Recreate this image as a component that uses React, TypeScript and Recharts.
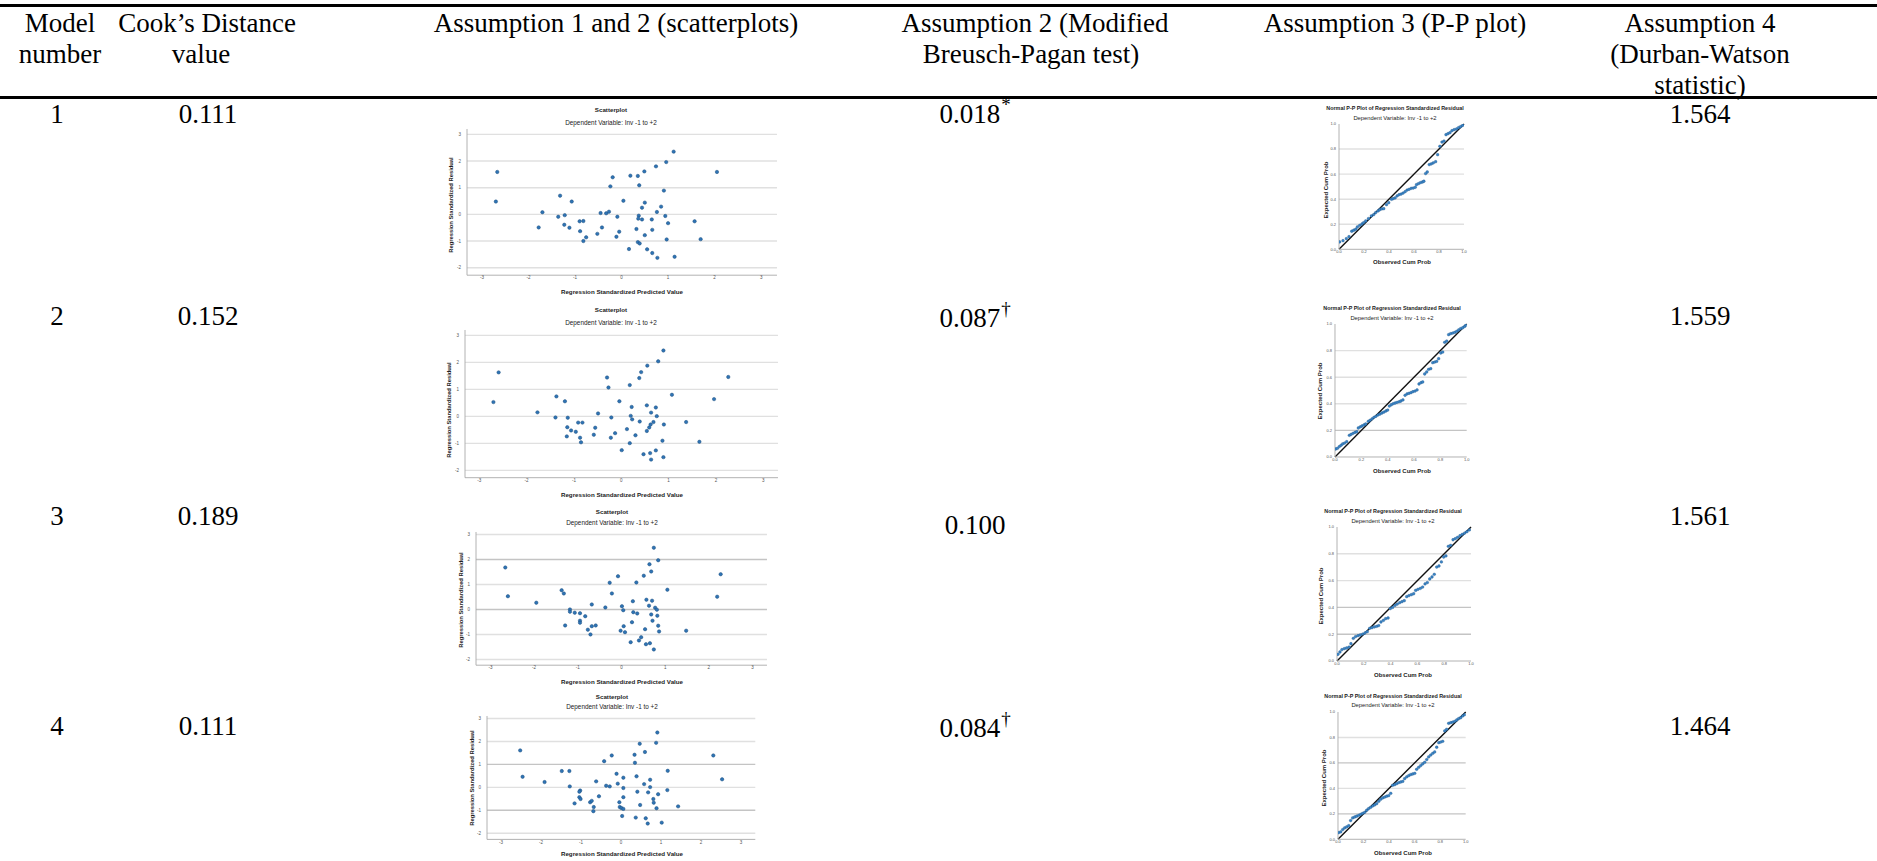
import { ScatterChart, Scatter, XAxis, YAxis, ReferenceLine } from "recharts";

const SERIF = '"Liberation Serif", "Times New Roman", serif';
const SANS = '"Liberation Sans", Arial, sans-serif';
const DOT = "#2f74b5";
const DOT_EDGE = "#1b4d7e";
const PP_DOT = "#3a84c6";
const GRID = "#e0e0e0";
const GRID_DARK = "#c4c4c4";
const AXIS = "#a9a9a9";

// table text
const MODEL_NUMBERS = ["1", "2", "3", "4"];
const COOKS_VALUES = ["0.111", "0.152", "0.189", "0.111"];
const BP_VALUES = ["0.018", "0.087", "0.100", "0.084"];
const BP_MARKS = ["*", "\u2020", "", "\u2020"];
const DW_VALUES = ["1.564", "1.559", "1.561", "1.464"];

const SCATTER_TITLE = "Scatterplot";
const PP_TITLE = "Normal P-P Plot of Regression Standardized Residual";
const SUBTITLE = "Dependent Variable: Inv -1 to +2";

const SCATTER_X_TICKS = [-3, -2, -1, 0, 1, 2, 3];
const SCATTER_Y_TICKS = [-2, -1, 0, 1, 2, 3];
const PP_TICKS = [0, 0.2, 0.4, 0.6, 0.8, 1];
const PP_GRID = [0.2, 0.4, 0.6, 0.8];

type Pt = [number, number];

// standardized predicted value, standardized residual
const scatter1: Pt[] = [
  [-2.67, 1.59], [-2.7, 0.48], [-1.78, -0.49], [-1.7, 0.08], [-1.32, 0.7], [-1.36, -0.09],
  [-1.22, -0.03], [-1.23, -0.39], [-1.12, -0.5], [-1.07, 0.48], [-0.9, -0.26], [-0.82, -0.25],
  [-0.89, -0.63], [-0.82, -1.0], [-0.76, -0.86], [-0.52, -0.73], [-0.45, 0.05], [-0.42, -0.49],
  [-0.33, 0.04], [-0.27, 0.1], [-0.24, 1.05], [-0.19, 1.39], [-0.09, -0.09], [-0.05, -0.65],
  [-0.11, -0.84], [0.04, 0.51], [0.16, -1.3], [0.19, 1.45], [0.32, -0.55], [0.35, 1.44],
  [0.38, 1.09], [0.37, -0.05], [0.36, -0.16], [0.35, -1.04], [0.39, -1.09], [0.44, 0.25],
  [0.44, -0.19], [0.5, 0.44], [0.49, 1.61], [0.5, -0.78], [0.55, -1.31], [0.65, -0.19],
  [0.66, -0.58], [0.66, -1.45], [0.74, 1.8], [0.76, 0.09], [0.77, -1.63], [0.85, 0.29],
  [0.91, 0.89], [0.94, -0.06], [0.96, 1.96], [0.97, -0.94], [1.0, -0.33], [1.12, 2.35],
  [1.14, -1.59], [1.57, -0.26], [1.7, -0.93], [2.05, 1.59],
];

const scatter2: Pt[] = [
  [-2.59, 1.63], [-2.7, 0.53], [-1.77, 0.15], [-1.37, 0.74], [-1.39, -0.04], [-1.19, 0.56],
  [-1.13, -0.05], [-1.14, -0.4], [-1.06, -0.52], [-1.15, -0.74], [-0.96, -0.57], [-0.91, -0.23],
  [-0.82, -0.23], [-0.87, -0.79], [-0.85, -0.96], [-0.58, -0.68], [-0.55, -0.42], [-0.49, 0.11],
  [-0.3, 1.44], [-0.27, 1.07], [-0.21, -0.04], [-0.22, -0.79], [-0.13, -0.62], [-0.04, 0.56],
  [0.01, -1.25], [0.12, -0.47], [0.18, 1.16], [0.18, -0.99], [0.2, 0.02], [0.22, 0.35],
  [0.23, -0.11], [0.3, -0.7], [0.38, 1.42], [0.39, -0.19], [0.42, 1.64], [0.47, -1.4],
  [0.54, 0.41], [0.54, -0.54], [0.55, 1.88], [0.59, -0.41], [0.61, -1.36], [0.63, 0.14],
  [0.62, -0.3], [0.63, -1.6], [0.68, -0.21], [0.73, 0.33], [0.75, 0.01], [0.73, -1.26],
  [0.78, 2.04], [0.87, -0.9], [0.89, 2.44], [0.9, -0.3], [0.89, -1.51], [1.07, 0.8],
  [1.37, -0.21], [1.65, -0.94], [1.96, 0.64], [2.26, 1.46],
];

const scatter3: Pt[] = [
  [-2.66, 1.68], [-2.6, 0.53], [-1.95, 0.27], [-1.37, 0.77], [-1.32, 0.64], [-1.29, -0.64],
  [-1.18, 0.0], [-1.18, -0.09], [-1.07, -0.13], [-0.95, -0.15], [-0.95, -0.45], [-0.95, -0.53],
  [-0.83, -0.27], [-0.77, -0.81], [-0.71, -1.0], [-0.68, 0.2], [-0.68, -0.67], [-0.59, -0.64],
  [-0.37, 0.08], [-0.27, 1.07], [-0.22, 0.64], [-0.08, 1.33], [-0.02, -0.85], [0.01, 0.13],
  [0.04, -0.03], [0.05, -0.67], [0.08, -0.91], [0.21, -1.31], [0.24, -0.51], [0.26, 0.33],
  [0.27, -0.11], [0.34, 1.08], [0.36, -0.16], [0.4, -1.24], [0.45, -1.11], [0.51, 1.35],
  [0.54, -0.79], [0.56, -1.39], [0.57, 0.39], [0.63, 0.15], [0.64, 1.81], [0.65, -1.35],
  [0.68, 1.52], [0.68, -0.2], [0.7, 0.35], [0.71, -0.45], [0.74, 2.47], [0.74, -1.6],
  [0.77, 0.07], [0.81, -0.01], [0.82, -0.25], [0.84, 1.97], [0.84, -0.65], [0.86, -0.88],
  [1.05, 0.79], [1.48, -0.85], [2.19, 0.51], [2.27, 1.41],
];

const scatter4: Pt[] = [
  [-2.52, 1.61], [-2.46, 0.46], [-1.91, 0.23], [-1.48, 0.71], [-1.29, 0.71], [-1.28, 0.04],
  [-1.16, -0.7], [-1.04, -0.43], [-1.02, -0.14], [-1.01, -0.51], [-1.04, -0.19], [-0.77, -0.65],
  [-0.73, -0.59], [-0.68, -0.86], [-0.69, -1.04], [-0.62, 0.26], [-0.55, -0.39], [-0.42, 1.14],
  [-0.37, 0.07], [-0.28, 0.04], [-0.23, 1.39], [-0.11, 0.59], [-0.08, 0.16], [-0.04, -0.65],
  [-0.03, -0.86], [0.01, -0.9], [0.03, -1.25], [0.06, 0.42], [0.06, -0.03], [0.06, -0.43],
  [0.06, -0.94], [0.34, 1.42], [0.35, 1.07], [0.37, -1.32], [0.39, 0.48], [0.41, -0.19],
  [0.47, 1.9], [0.48, -0.77], [0.58, 0.14], [0.6, 1.54], [0.62, -1.35], [0.67, -1.58],
  [0.68, -0.22], [0.73, 0.33], [0.73, 0.01], [0.81, -0.51], [0.82, -0.67], [0.88, 1.94],
  [0.89, -0.91], [0.91, 2.39], [0.93, -0.3], [1.02, -1.54], [1.17, 0.72], [1.16, -0.12],
  [1.43, -0.83], [2.31, 1.39], [2.53, 0.35],
];

// observed cum prob, expected cum prob
const pp1: Pt[] = [
  [0.005, 0.059], [0.032, 0.069], [0.059, 0.085], [0.08, 0.101], [0.102, 0.144], [0.118, 0.152],
  [0.134, 0.16], [0.147, 0.178], [0.166, 0.191], [0.184, 0.202], [0.198, 0.213], [0.214, 0.226],
  [0.236, 0.245], [0.259, 0.266], [0.278, 0.277], [0.294, 0.293], [0.313, 0.306], [0.326, 0.316],
  [0.342, 0.322], [0.358, 0.324], [0.38, 0.356], [0.398, 0.372], [0.42, 0.399], [0.433, 0.404],
  [0.449, 0.41], [0.465, 0.426], [0.481, 0.436], [0.497, 0.441], [0.513, 0.449], [0.529, 0.46],
  [0.545, 0.473], [0.561, 0.479], [0.578, 0.487], [0.594, 0.489], [0.61, 0.495], [0.62, 0.516],
  [0.636, 0.524], [0.652, 0.532], [0.668, 0.537], [0.679, 0.543], [0.693, 0.604], [0.706, 0.617],
  [0.722, 0.676], [0.738, 0.681], [0.754, 0.689], [0.773, 0.699], [0.789, 0.755], [0.807, 0.822],
  [0.824, 0.856], [0.84, 0.864], [0.856, 0.915], [0.872, 0.923], [0.888, 0.931], [0.904, 0.947],
  [0.922, 0.955], [0.941, 0.96], [0.957, 0.971], [0.973, 0.979], [0.989, 0.989],
];

const pp2: Pt[] = [
  [0.005, 0.06], [0.018, 0.065], [0.033, 0.078], [0.046, 0.088], [0.058, 0.098], [0.073, 0.105],
  [0.089, 0.115], [0.109, 0.163], [0.122, 0.17], [0.137, 0.178], [0.152, 0.185], [0.165, 0.19],
  [0.177, 0.218], [0.192, 0.226], [0.205, 0.233], [0.22, 0.241], [0.233, 0.248], [0.253, 0.268],
  [0.266, 0.276], [0.281, 0.286], [0.296, 0.298], [0.311, 0.306], [0.327, 0.316], [0.342, 0.323],
  [0.357, 0.331], [0.372, 0.338], [0.387, 0.346], [0.4, 0.353], [0.413, 0.383], [0.428, 0.393],
  [0.443, 0.401], [0.458, 0.406], [0.473, 0.411], [0.489, 0.416], [0.501, 0.421], [0.516, 0.429],
  [0.532, 0.464], [0.547, 0.474], [0.562, 0.479], [0.577, 0.484], [0.592, 0.491], [0.608, 0.496],
  [0.623, 0.504], [0.638, 0.549], [0.653, 0.559], [0.666, 0.564], [0.681, 0.624], [0.696, 0.639],
  [0.711, 0.659], [0.727, 0.664], [0.742, 0.709], [0.757, 0.714], [0.772, 0.719], [0.787, 0.739],
  [0.803, 0.782], [0.818, 0.789], [0.833, 0.862], [0.848, 0.872], [0.863, 0.92], [0.878, 0.927],
  [0.894, 0.932], [0.909, 0.937], [0.924, 0.945], [0.939, 0.955], [0.954, 0.965], [0.97, 0.972],
  [0.985, 0.982], [0.995, 0.992],
];

const pp3: Pt[] = [
  [0.007, 0.05], [0.022, 0.067], [0.037, 0.085], [0.055, 0.092], [0.072, 0.097], [0.09, 0.104],
  [0.104, 0.129], [0.122, 0.169], [0.139, 0.182], [0.157, 0.189], [0.174, 0.194], [0.192, 0.201],
  [0.209, 0.209], [0.226, 0.219], [0.244, 0.244], [0.261, 0.249], [0.279, 0.254], [0.296, 0.259],
  [0.311, 0.264], [0.328, 0.291], [0.346, 0.303], [0.363, 0.316], [0.381, 0.321], [0.398, 0.391],
  [0.415, 0.4], [0.433, 0.415], [0.45, 0.425], [0.468, 0.435], [0.485, 0.443], [0.502, 0.45],
  [0.52, 0.48], [0.537, 0.488], [0.555, 0.495], [0.572, 0.502], [0.587, 0.527], [0.604, 0.535],
  [0.622, 0.542], [0.639, 0.552], [0.657, 0.575], [0.674, 0.585], [0.692, 0.612], [0.709, 0.627],
  [0.726, 0.647], [0.744, 0.701], [0.761, 0.709], [0.779, 0.739], [0.796, 0.776], [0.813, 0.784],
  [0.831, 0.856], [0.848, 0.863], [0.866, 0.905], [0.883, 0.913], [0.9, 0.923], [0.918, 0.935],
  [0.935, 0.945], [0.953, 0.955], [0.97, 0.965], [0.988, 0.978],
];

const pp4: Pt[] = [
  [0.005, 0.052], [0.021, 0.058], [0.037, 0.076], [0.052, 0.089], [0.068, 0.097], [0.084, 0.107],
  [0.099, 0.147], [0.115, 0.168], [0.131, 0.175], [0.146, 0.181], [0.162, 0.188], [0.178, 0.196],
  [0.193, 0.204], [0.209, 0.212], [0.225, 0.228], [0.24, 0.241], [0.256, 0.251], [0.272, 0.262],
  [0.287, 0.27], [0.303, 0.28], [0.319, 0.298], [0.334, 0.314], [0.35, 0.325], [0.366, 0.332],
  [0.381, 0.338], [0.397, 0.343], [0.413, 0.361], [0.428, 0.424], [0.444, 0.429], [0.46, 0.437],
  [0.475, 0.445], [0.491, 0.45], [0.507, 0.455], [0.522, 0.476], [0.538, 0.49], [0.554, 0.5],
  [0.569, 0.508], [0.585, 0.513], [0.601, 0.518], [0.616, 0.55], [0.632, 0.565], [0.648, 0.579],
  [0.663, 0.592], [0.679, 0.605], [0.695, 0.626], [0.71, 0.647], [0.726, 0.662], [0.742, 0.675],
  [0.757, 0.686], [0.773, 0.723], [0.789, 0.759], [0.804, 0.764], [0.82, 0.77], [0.836, 0.851],
  [0.851, 0.864], [0.867, 0.911], [0.883, 0.916], [0.898, 0.921], [0.914, 0.927], [0.93, 0.937],
  [0.945, 0.948], [0.961, 0.955], [0.977, 0.969], [0.992, 0.979],
];

type Layout = {
  left: number; top: number; width: number; height: number;
  xDomain: [number, number]; yDomain: [number, number];
  cx: number; titleY: number; subY: number;
  xLabelX: number; xLabelY: number; yLabelX: number; yLabelY: number;
  dark: number[];
};

const SCATTER_LAYOUT: Layout[] = [
  { left: 467, top: 129, width: 310, height: 146.2, xDomain: [-3.32, 3.34], yDomain: [-2.28, 3.2],
    cx: 611, titleY: 110, subY: 123, xLabelX: 622, xLabelY: 292, yLabelX: 452, yLabelY: 205, dark: [] },
  { left: 465, top: 329.6, width: 313, height: 147.7, xDomain: [-3.3, 3.31], yDomain: [-2.27, 3.2],
    cx: 611, titleY: 310, subY: 323, xLabelX: 622, xLabelY: 495, yLabelX: 450, yLabelY: 410, dark: [] },
  { left: 475.7, top: 531.8, width: 291, height: 133.2, xDomain: [-3.33, 3.33], yDomain: [-2.23, 3.1],
    cx: 612, titleY: 512, subY: 523, xLabelX: 622, xLabelY: 682, yLabelX: 462, yLabelY: 600, dark: [2, 0] },
  { left: 486.7, top: 715.8, width: 268.3, height: 123.4, xDomain: [-3.35, 3.36], yDomain: [-2.27, 3.11],
    cx: 612, titleY: 697, subY: 707, xLabelX: 622, xLabelY: 854, yLabelX: 473, yLabelY: 778, dark: [1, -1] },
];

const PP_LAYOUT: Layout[] = [
  { left: 1339, top: 123.7, width: 125, height: 125.3, xDomain: [0, 1], yDomain: [0, 1],
    cx: 1395, titleY: 109, subY: 119, xLabelX: 1402, xLabelY: 262, yLabelX: 1326, yLabelY: 190, dark: [] },
  { left: 1335, top: 324.3, width: 131.7, height: 133, xDomain: [0, 1], yDomain: [0, 1],
    cx: 1392, titleY: 309, subY: 319, xLabelX: 1402, xLabelY: 471, yLabelX: 1320, yLabelY: 391, dark: [0.2] },
  { left: 1336.7, top: 526.7, width: 134, height: 134, xDomain: [0, 1], yDomain: [0, 1],
    cx: 1393, titleY: 512, subY: 522, xLabelX: 1403, xLabelY: 675, yLabelX: 1321, yLabelY: 596, dark: [0.4, 0.2] },
  { left: 1338.3, top: 711.7, width: 127.7, height: 127.3, xDomain: [0, 1], yDomain: [0, 1],
    cx: 1393, titleY: 697, subY: 706, xLabelX: 1403, xLabelY: 853, yLabelX: 1324, yLabelY: 778, dark: [0.6, 0.2] },
];

const ROW_BASELINES = [124, 326, 526, 736];
const BP_SHIFT = [0, 2, 9, 2];

const HEADER_LINES: { text: string; cx: number; line: number }[] = [
  { text: "Model", cx: 60, line: 0 },
  { text: "number", cx: 60, line: 1 },
  { text: "Cook\u2019s Distance", cx: 207, line: 0 },
  { text: "value", cx: 201, line: 1 },
  { text: "Assumption 1 and 2 (scatterplots)", cx: 616, line: 0 },
  { text: "Assumption 2 (Modified", cx: 1035, line: 0 },
  { text: "Breusch-Pagan test)", cx: 1031, line: 1 },
  { text: "Assumption 3 (P-P plot)", cx: 1395, line: 0 },
  { text: "Assumption 4", cx: 1700, line: 0 },
  { text: "(Durban-Watson", cx: 1700, line: 1 },
  { text: "statistic)", cx: 1700, line: 2 },
];
const HEADER_BASELINES = [33, 64, 95];

function Cell({ cx, base, children }: { cx: number; base: number; children: React.ReactNode }) {
  return (
    <div
      style={{
        position: "absolute", left: cx, top: base - 24.6, transform: "translateX(-50%)",
        fontFamily: SERIF, fontSize: 27, lineHeight: "31px", whiteSpace: "nowrap", color: "#000",
      }}
    >
      {children}
    </div>
  );
}

function Small({ x, y, size, bold, rotate, children }: {
  x: number; y: number; size: number; bold?: boolean; rotate?: boolean; children: React.ReactNode;
}) {
  return (
    <div
      style={{
        position: "absolute", left: x, top: y, fontFamily: SANS, fontSize: size, lineHeight: 1,
        fontWeight: bold ? 700 : 400, color: "#222", whiteSpace: "nowrap",
        transform: `translate(-50%, -50%)${rotate ? " rotate(-90deg)" : ""}`,
      }}
    >
      {children}
    </div>
  );
}

// extra room round the plot so edge tick labels are not clipped
const PAD_TOP = 5;
const PAD_RIGHT = 8;

function Plot({ l, points, kind }: { l: Layout; points: Pt[]; kind: "scatter" | "pp" }) {
  const YW = 24;
  const XH = 10;
  const pp = kind === "pp";
  const data = points.map(([x, y]) => ({ x, y }));
  const xTicks = pp ? PP_TICKS : SCATTER_X_TICKS;
  const yTicks = pp ? PP_TICKS : SCATTER_Y_TICKS;
  const grid = pp ? PP_GRID : SCATTER_Y_TICKS;
  const fmt = (v: number) => (pp ? v.toFixed(1) : String(v));
  const tickStyle = { fontSize: pp ? 4 : 4.5, fill: "#555", fontFamily: SANS };
  const r = pp ? 1.4 : 1.7;
  return (
    <>
      <div style={{ position: "absolute", left: l.left - YW, top: l.top - PAD_TOP }}>
        <ScatterChart
          width={YW + l.width + PAD_RIGHT}
          height={PAD_TOP + l.height + XH}
          margin={{ top: PAD_TOP, right: PAD_RIGHT, bottom: 0, left: 0 }}
        >
          <XAxis
            type="number" dataKey="x" domain={l.xDomain} ticks={xTicks} interval={0} allowDataOverflow
            height={XH} tickLine={false} tickSize={1} tickMargin={0} tickFormatter={fmt}
            axisLine={{ stroke: AXIS, strokeWidth: 0.9 }} tick={tickStyle}
          />
          <YAxis
            type="number" dataKey="y" domain={l.yDomain} ticks={yTicks} interval={0} allowDataOverflow
            width={YW} tickLine={false} tickSize={pp ? 3 : 6} tickMargin={0} tickFormatter={fmt}
            axisLine={{ stroke: AXIS, strokeWidth: 0.9 }} tick={tickStyle}
          />
          {grid.map((v) => (
            <ReferenceLine key={v} y={v} stroke={l.dark.includes(v) ? GRID_DARK : GRID} strokeWidth={1.4} />
          ))}
          {pp && (
            <ReferenceLine
              segment={[{ x: 0, y: 0 }, { x: 1, y: 1 }]}
              stroke="#111"
              strokeWidth={1.4}
            />
          )}
          <Scatter
            data={data}
            isAnimationActive={false}
            shape={(p: any) => (
              <circle
                cx={p.cx} cy={p.cy} r={r}
                fill={pp ? PP_DOT : DOT} stroke={DOT_EDGE} strokeWidth={pp ? 0.3 : 0.5}
              />
            )}
          />
        </ScatterChart>
      </div>
      <Small x={l.cx} y={l.titleY} size={pp ? 5.4 : 6.2} bold>{pp ? PP_TITLE : SCATTER_TITLE}</Small>
      <Small x={l.cx} y={l.subY} size={pp ? 5.8 : 6.4}>{SUBTITLE}</Small>
      <Small x={l.xLabelX} y={l.xLabelY} size={pp ? 6 : 6.2} bold>
        {pp ? "Observed Cum Prob" : "Regression Standardized Predicted Value"}
      </Small>
      <Small x={l.yLabelX} y={l.yLabelY} size={pp ? 6 : 5.8} bold rotate>
        {pp ? "Expected Cum Prob" : "Regression Standardized Residual"}
      </Small>
    </>
  );
}

const SCATTERS = [scatter1, scatter2, scatter3, scatter4];
const PPS = [pp1, pp2, pp3, pp4];

export default function App() {
  return (
    <div
      style={{
        position: "absolute", left: 0, top: 0, width: 1877, height: 861,
        background: "#fff", overflow: "hidden",
      }}
    >
      <div style={{ position: "absolute", left: 0, top: 4, width: 1877, height: 3, background: "#000" }} />
      <div style={{ position: "absolute", left: 0, top: 96, width: 1877, height: 3, background: "#000" }} />

      {HEADER_LINES.map((h) => (
        <Cell key={h.text} cx={h.cx} base={HEADER_BASELINES[h.line]}>{h.text}</Cell>
      ))}

      {MODEL_NUMBERS.map((m, i) => (
        <Cell key={"m" + i} cx={57} base={ROW_BASELINES[i]}>{m}</Cell>
      ))}
      {COOKS_VALUES.map((v, i) => (
        <Cell key={"c" + i} cx={208} base={ROW_BASELINES[i]}>{v}</Cell>
      ))}
      {BP_VALUES.map((v, i) => (
        <Cell key={"b" + i} cx={975} base={ROW_BASELINES[i] + BP_SHIFT[i]}>
          {v}
          {BP_MARKS[i] && (
            <span style={{ fontSize: 19, position: "relative", top: -12, marginLeft: 1 }}>{BP_MARKS[i]}</span>
          )}
        </Cell>
      ))}
      {DW_VALUES.map((v, i) => (
        <Cell key={"d" + i} cx={1700} base={ROW_BASELINES[i]}>{v}</Cell>
      ))}

      {SCATTERS.map((pts, i) => (
        <Plot key={"s" + i} l={SCATTER_LAYOUT[i]} points={pts} kind="scatter" />
      ))}
      {PPS.map((pts, i) => (
        <Plot key={"p" + i} l={PP_LAYOUT[i]} points={pts} kind="pp" />
      ))}
    </div>
  );
}
